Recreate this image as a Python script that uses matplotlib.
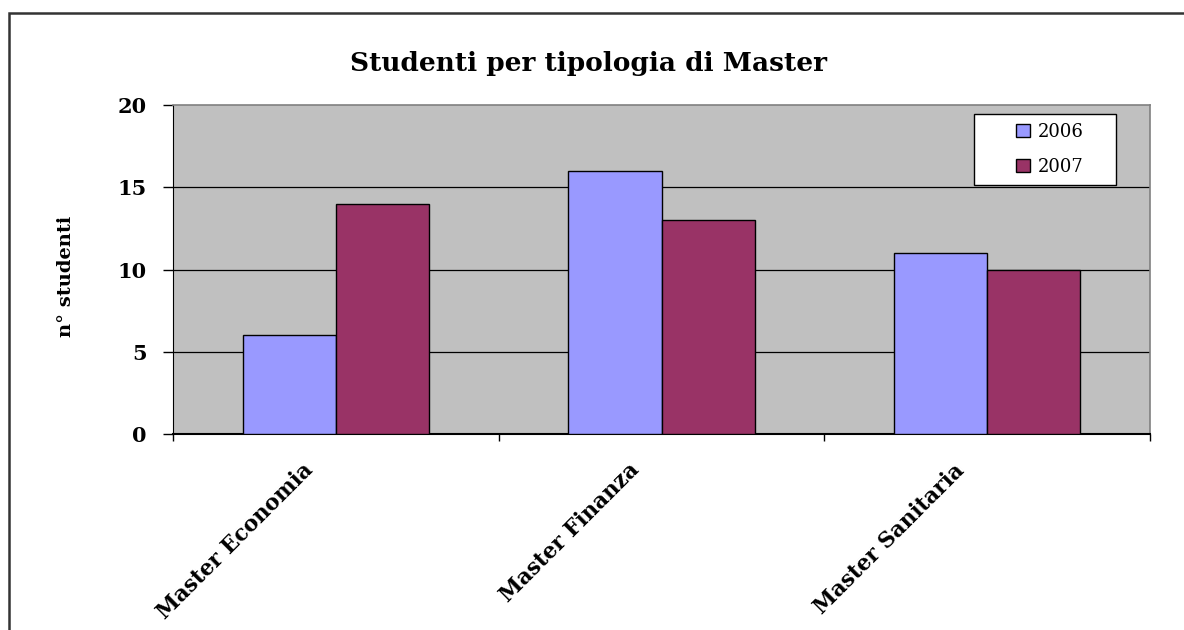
import matplotlib
matplotlib.use("Agg")
import matplotlib.pyplot as plt
import matplotlib.transforms as mtransforms
from matplotlib.patches import Rectangle
import numpy as np

categories = ["Master Economia", "Master Finanza", "Master Sanitaria"]
series_names = ["2006", "2007"]
values_2006 = [6, 16, 11]
values_2007 = [14, 13, 10]
colors = ["#9999FF", "#993366"]
yticks = [0, 5, 10, 15, 20]

plt.rcParams['font.family'] = ['DejaVu Serif', 'Liberation Serif']

W, H = 1184, 630
fig = plt.figure(figsize=(W / 100, H / 100), dpi=100)

# outer chart frame (cut off on right and bottom)
fig.patches.append(Rectangle((9 / W, -0.1), 1.2, 1 - 13 / H + 0.1,
                             transform=fig.transFigure, fill=False,
                             edgecolor="#333333", linewidth=1.8, zorder=0))

left, right, top, bottom = 173, 1150, 105, 434
ax = fig.add_axes([left / W, 1 - bottom / H, (right - left) / W, (bottom - top) / H])
ax.set_facecolor("#C0C0C0")

x = np.arange(len(categories))
bw = 1 / 3.5
ax.bar(x - bw / 2, values_2006, bw, color=colors[0], edgecolor="black", linewidth=1.0,
       label=series_names[0], zorder=3)
ax.bar(x + bw / 2, values_2007, bw, color=colors[1], edgecolor="black", linewidth=1.0,
       label=series_names[1], zorder=3)

ax.set_xlim(-0.5, len(categories) - 0.5)
ax.set_ylim(0, 20)
ax.set_yticks(yticks)
ax.set_yticklabels([str(v) for v in yticks], fontsize=15, fontweight="bold")
for v in yticks[1:-1]:
    ax.axhline(v, color="black", linewidth=0.9, zorder=1)

ax.set_xticks(np.arange(-0.5, len(categories), 1.0))
ax.set_xticklabels([])
ax.tick_params(axis="x", direction="out", length=5, width=1, color="black")
ax.tick_params(axis="y", direction="out", length=7, width=1, color="black", pad=12)

for s in ["top", "right"]:
    ax.spines[s].set_color("#808080")
    ax.spines[s].set_linewidth(1.2)
ax.spines["left"].set_color("black")
ax.spines["bottom"].set_color("black")
ax.spines["bottom"].set_linewidth(1.5)

offset = mtransforms.ScaledTranslation(-26 / 100, -33 / 100, fig.dpi_scale_trans)
for xi, name in zip(x, categories):
    ax.text(xi, 0, name, transform=ax.get_xaxis_transform() + offset,
            rotation=45, rotation_mode="anchor", ha="right", va="center",
            fontsize=15.5, fontweight="bold")

ax.set_ylabel("n° studenti", fontsize=14, fontweight="bold")
ax.yaxis.set_label_coords((75 - left) / (right - left), 1 - (276 - top) / (bottom - top))
fig.text(588 / W, 1 - 64 / H, "Studenti per tipologia di Master", ha="center", va="center",
         fontsize=19, fontweight="bold")

lx0 = (974 - left) / (right - left)
ly0 = 1 - (185 - top) / (bottom - top)
lw = (1116 - 974) / (right - left)
lh = (185 - 114) / (bottom - top)
ax.add_patch(Rectangle((lx0, ly0), lw, lh, transform=ax.transAxes, facecolor="white",
                       edgecolor="black", linewidth=1.0, zorder=5))
leg = ax.legend(loc="center", bbox_to_anchor=(lx0 + 0.005, ly0, lw, lh),
                fontsize=13, frameon=False,
                handlelength=0.75, handleheight=0.75, handletextpad=0.45,
                borderpad=0.3, labelspacing=0.95, borderaxespad=0)
leg.set_zorder(6)

fig.savefig("out.png", dpi=100)
